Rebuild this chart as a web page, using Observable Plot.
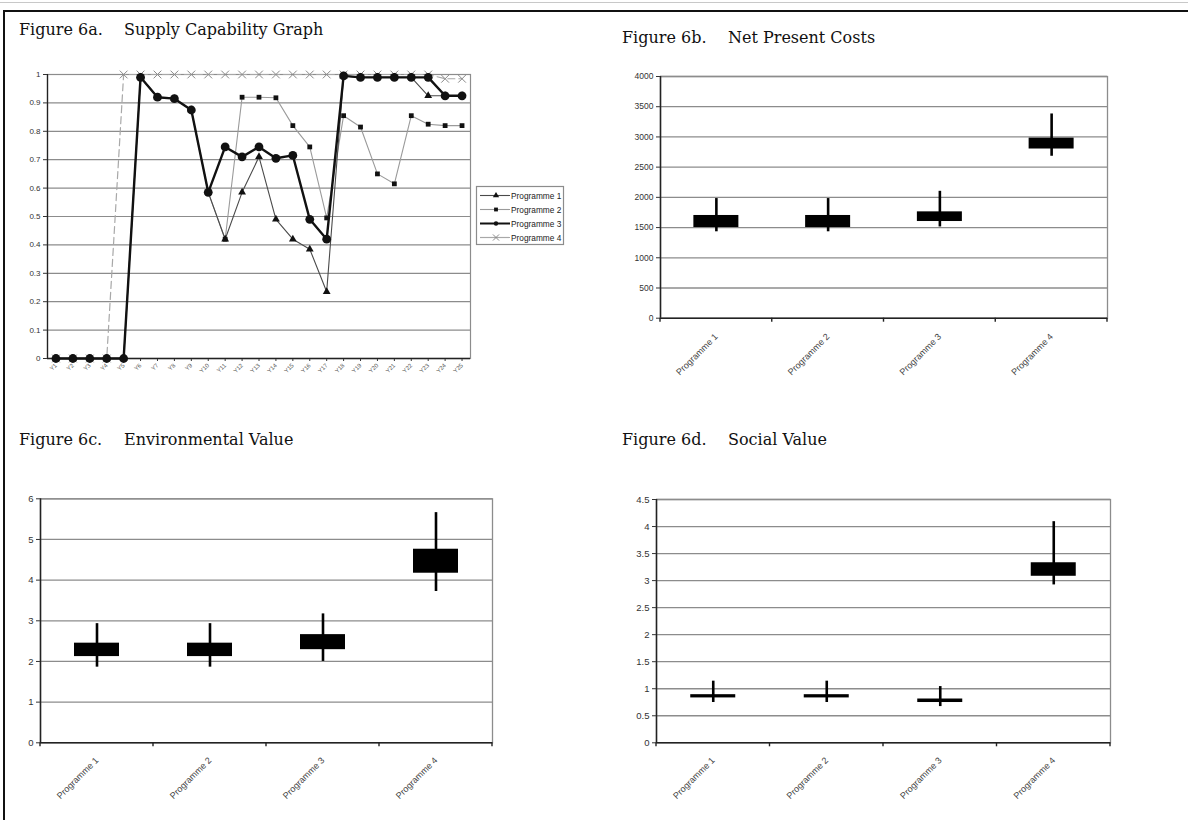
<!DOCTYPE html>
<html><head><meta charset="utf-8">
<script src="https://cdn.jsdelivr.net/npm/d3@7"></script>
<script src="https://cdn.jsdelivr.net/npm/@observablehq/plot@0.6"></script>
<style>
html,body{margin:0;padding:0;background:#fff}
body{width:1188px;height:820px;overflow:hidden;position:relative}
#topline{position:absolute;left:0;top:2px;width:1188px;height:1px;background:#c8c8c8}
#frame{position:absolute;left:3px;top:10px;width:1200px;height:830px;border-top:2px solid #111;border-left:2px solid #111}
.t{position:absolute;font-family:"DejaVu Serif",serif;font-size:16px;line-height:16px;color:#111;white-space:nowrap}
.p{position:absolute}
</style></head><body>
<div id="topline"></div><div id="frame"></div>
<div class="t" style="left:19px;top:22px">Figure 6a.</div>
<div class="t" style="left:124px;top:22px">Supply Capability Graph</div>
<div class="t" style="left:622px;top:30px">Figure 6b.</div>
<div class="t" style="left:728px;top:30px">Net Present Costs</div>
<div class="t" style="left:19px;top:432px">Figure 6c.</div>
<div class="t" style="left:124px;top:432px">Environmental Value</div>
<div class="t" style="left:622px;top:432px">Figure 6d.</div>
<div class="t" style="left:728px;top:432px">Social Value</div>
<div class="p" id="a" style="left:0;top:60px"></div>
<div class="p" id="leg" style="left:476px;top:186px"></div>
<div class="p" id="b" style="left:600px;top:60px"></div>
<div class="p" id="c" style="left:0;top:470px"></div>
<div class="p" id="d" style="left:600px;top:470px"></div>
<script>
// ---------- data ----------
const years = ["Y1","Y2","Y3","Y4","Y5","Y6","Y7","Y8","Y9","Y10","Y11","Y12","Y13","Y14","Y15","Y16","Y17","Y18","Y19","Y20","Y21","Y22","Y23","Y24","Y25"];
const prog1 = [0,0,0,0,0,0.99,0.92,0.915,0.875,0.585,0.42,0.585,0.71,0.49,0.42,0.385,0.235,0.995,0.99,0.99,0.99,0.99,0.925,0.925,0.925];
const prog2 = [0,0,0,0,0,0.99,0.92,0.915,0.875,0.585,0.42,0.92,0.92,0.918,0.82,0.745,0.495,0.855,0.815,0.65,0.615,0.855,0.825,0.82,0.82];
const prog3 = [0,0,0,0,0,0.99,0.92,0.915,0.875,0.585,0.745,0.71,0.745,0.705,0.715,0.49,0.42,0.995,0.99,0.99,0.99,0.99,0.99,0.925,0.925];
const prog4 = [0,0,0,0,1,1,1,1,1,1,1,1,1,1,1,1,1,1,1,1,1,1,1,0.985,0.985];
const supplyTicks = [0,0.1,0.2,0.3,0.4,0.5,0.6,0.7,0.8,0.9,1];

const programmes = ["Programme 1","Programme 2","Programme 3","Programme 4"];

const npcLow  = [1430,1430,1510,2680];
const npcQ1   = [1500,1500,1600,2800];
const npcQ3   = [1700,1700,1760,2980];
const npcHigh = [1980,1980,2100,3380];
const npcTicks = [0,500,1000,1500,2000,2500,3000,3500,4000];

const envLow  = [1.86,1.86,2.0,3.72];
const envQ1   = [2.12,2.12,2.29,4.17];
const envQ3   = [2.45,2.45,2.66,4.76];
const envHigh = [2.93,2.93,3.17,5.66];
const envTicks = [0,1,2,3,4,5,6];

const socLow  = [0.745,0.745,0.67,2.92];
const socQ1   = [0.83,0.83,0.745,3.08];
const socQ3   = [0.89,0.89,0.81,3.33];
const socHigh = [1.14,1.14,1.04,4.09];
const socTicks = [0,0.5,1,1.5,2,2.5,3,3.5,4,4.5];

// ---------- styles ----------
const FONT = "'Liberation Sans', Arial, sans-serif";
const GRID = "#8c8c8c";
const seriesStyle = {
  "Programme 1": {stroke:"#4a4a4a", strokeWidth:1.1, symbol:"triangle", r:2.9, dotFill:"#111", dotStroke:"none"},
  "Programme 2": {stroke:"#9a9a9a", strokeWidth:1.1, symbol:"square", r:2.7, dotFill:"#111", dotStroke:"none"},
  "Programme 3": {stroke:"#111", strokeWidth:2.4, symbol:"circle", r:4.4, dotFill:"#111", dotStroke:"none"},
  "Programme 4": {stroke:"#a8a8a8", strokeWidth:1.2, dash:"7,4", symbol:"times", r:3.6, dotFill:"none", dotStroke:"#8a8a8a"}
};
const seriesValues = {"Programme 1":prog1,"Programme 2":prog2,"Programme 3":prog3,"Programme 4":prog4};
const drawOrder = ["Programme 4","Programme 2","Programme 1","Programme 3"];

function setXLabelSize(svg, size, color){
  svg.querySelectorAll('[aria-label^="x-axis"] text').forEach(t=>{t.setAttribute("font-size", size); t.style.fontSize = size+"px"; if(color) t.setAttribute("fill", color);});
}

// ---------- Figure 6a ----------
{
  const w=590,h=330,ml=47,mr=120,mt=14,mb=32;
  const bw=(w-ml-mr)/years.length;
  const idx = years.map((_,i)=>i);
  const marks = [
    Plot.ruleY(supplyTicks.slice(1), {stroke:GRID, strokeWidth:1.2}),
    Plot.frame({stroke:GRID, strokeWidth:1.2}),
    Plot.ruleX([years[0]], {dx:-bw/2, stroke:"#222", strokeWidth:1.3}),
    Plot.ruleY([0], {stroke:"#222", strokeWidth:1.3})
  ];
  for (const name of drawOrder){
    const s = seriesStyle[name], v = seriesValues[name];
    marks.push(Plot.line(idx, {x:i=>years[i], y:i=>v[i], stroke:s.stroke, strokeWidth:s.strokeWidth, strokeDasharray:s.dash}));
    marks.push(Plot.dot(idx, {x:i=>years[i], y:i=>v[i], symbol:s.symbol, r:s.r, fill:s.dotFill, stroke:s.dotStroke, strokeWidth:1}));
  }
  const svg = Plot.plot({
    width:w,height:h,marginLeft:ml,marginRight:mr,marginTop:mt,marginBottom:mb,
    style:{fontFamily:FONT,fontSize:"8px",color:"#333",background:"transparent",overflow:"visible"},
    x:{type:"band",domain:years,padding:0,round:false,label:null,tickRotate:-45,tickSize:3,tickPadding:3},
    y:{domain:[0,1],ticks:supplyTicks,tickFormat:d=>String(Math.round(d*10)/10),tickSize:4,tickPadding:3,label:null},
    marks
  });
  setXLabelSize(svg, 6, "#555");
  document.getElementById("a").appendChild(svg);

  // legend
  const leg = d3.select("#leg").append("svg").attr("width",89).attr("height",60).style("overflow","visible");
  leg.append("rect").attr("x",0.5).attr("y",0.5).attr("width",87).attr("height",58).attr("fill","#fff").attr("stroke",GRID).attr("stroke-width",1.2);
  programmes.forEach((name,k)=>{
    const s = seriesStyle[name];
    const y = 9.5 + k*14;
    leg.append("line").attr("x1",4).attr("x2",34).attr("y1",y).attr("y2",y)
      .attr("stroke",s.stroke).attr("stroke-width",Math.min(s.strokeWidth,2));
    const size = Math.PI*Math.pow(name==="Programme 3"?2.2:s.r*0.8,2);
    const sym = {triangle:d3.symbolTriangle,square:d3.symbolSquare,circle:d3.symbolCircle,times:d3.symbolTimes}[s.symbol];
    leg.append("path").attr("d", d3.symbol(sym, size)()).attr("transform",`translate(20,${y})`)
      .attr("fill", s.dotFill).attr("stroke", s.dotStroke).attr("stroke-width",1);
    leg.append("text").attr("x",35).attr("y",y+3).attr("font-family",FONT).attr("font-size",8.3).attr("fill","#222").text(name);
  });
}

// ---------- box panels ----------
function boxPanel(id, o){
  const bw=(o.width-o.ml-o.mr)/programmes.length;
  const inset=(bw-45)/2;
  const rows = programmes.map((p,i)=>({p, lo:o.low[i], q1:o.q1[i], q3:o.q3[i], hi:o.high[i]}));
  const svg = Plot.plot({
    width:o.width,height:o.height,marginLeft:o.ml,marginRight:o.mr,marginTop:o.mt,marginBottom:o.mb,
    style:{fontFamily:FONT,fontSize:o.fs+"px",color:"#333",background:"transparent",overflow:"visible"},
    x:{type:"band",domain:programmes,padding:0,round:false,label:null,tickRotate:-45,tickSize:0,tickPadding:o.xpad},
    y:{domain:[o.ticks[0],o.ticks[o.ticks.length-1]],ticks:o.ticks,tickFormat:d=>String(d),tickSize:4,tickPadding:3,label:null},
    marks:[
      Plot.ruleY(o.ticks.slice(1),{stroke:GRID,strokeWidth:1.3}),
      Plot.frame({stroke:GRID,strokeWidth:1.3}),
      Plot.ruleX([programmes[0]],{dx:-bw/2,stroke:"#222",strokeWidth:1.5}),
      Plot.ruleY([o.ticks[0]],{stroke:"#222",strokeWidth:1.5}),
      Plot.ruleX(rows,{x:"p",y1:"lo",y2:"hi",stroke:"#000",strokeWidth:2.6}),
      Plot.barY(rows,{x:"p",y1:"q1",y2:"q3",fill:"#000",insetLeft:inset,insetRight:inset})
    ]
  });
  setXLabelSize(svg, 9, "#444");
  const y0 = o.height - o.mb;
  const g = d3.select(svg).append("g");
  for(let k=0;k<=programmes.length;k++){
    const x = o.ml + k*bw;
    g.append("line").attr("x1",x).attr("x2",x).attr("y1",y0).attr("y2",y0+4).attr("stroke","#222").attr("stroke-width",1.4);
  }
  document.getElementById(id).appendChild(svg);
}

boxPanel("b",{width:588,height:330,ml:60,mr:81,mt:16,mb:72.3,fs:8.5,xpad:17,ticks:npcTicks,low:npcLow,q1:npcQ1,q3:npcQ3,high:npcHigh});
boxPanel("c",{width:590,height:350,ml:40,mr:98,mt:28.3,mb:77.7,fs:9.5,xpad:16,ticks:envTicks,low:envLow,q1:envQ1,q3:envQ3,high:envHigh});
boxPanel("d",{width:588,height:350,ml:56,mr:78,mt:29,mb:77.7,fs:9.5,xpad:16,ticks:socTicks,low:socLow,q1:socQ1,q3:socQ3,high:socHigh});
</script>
</body></html>
